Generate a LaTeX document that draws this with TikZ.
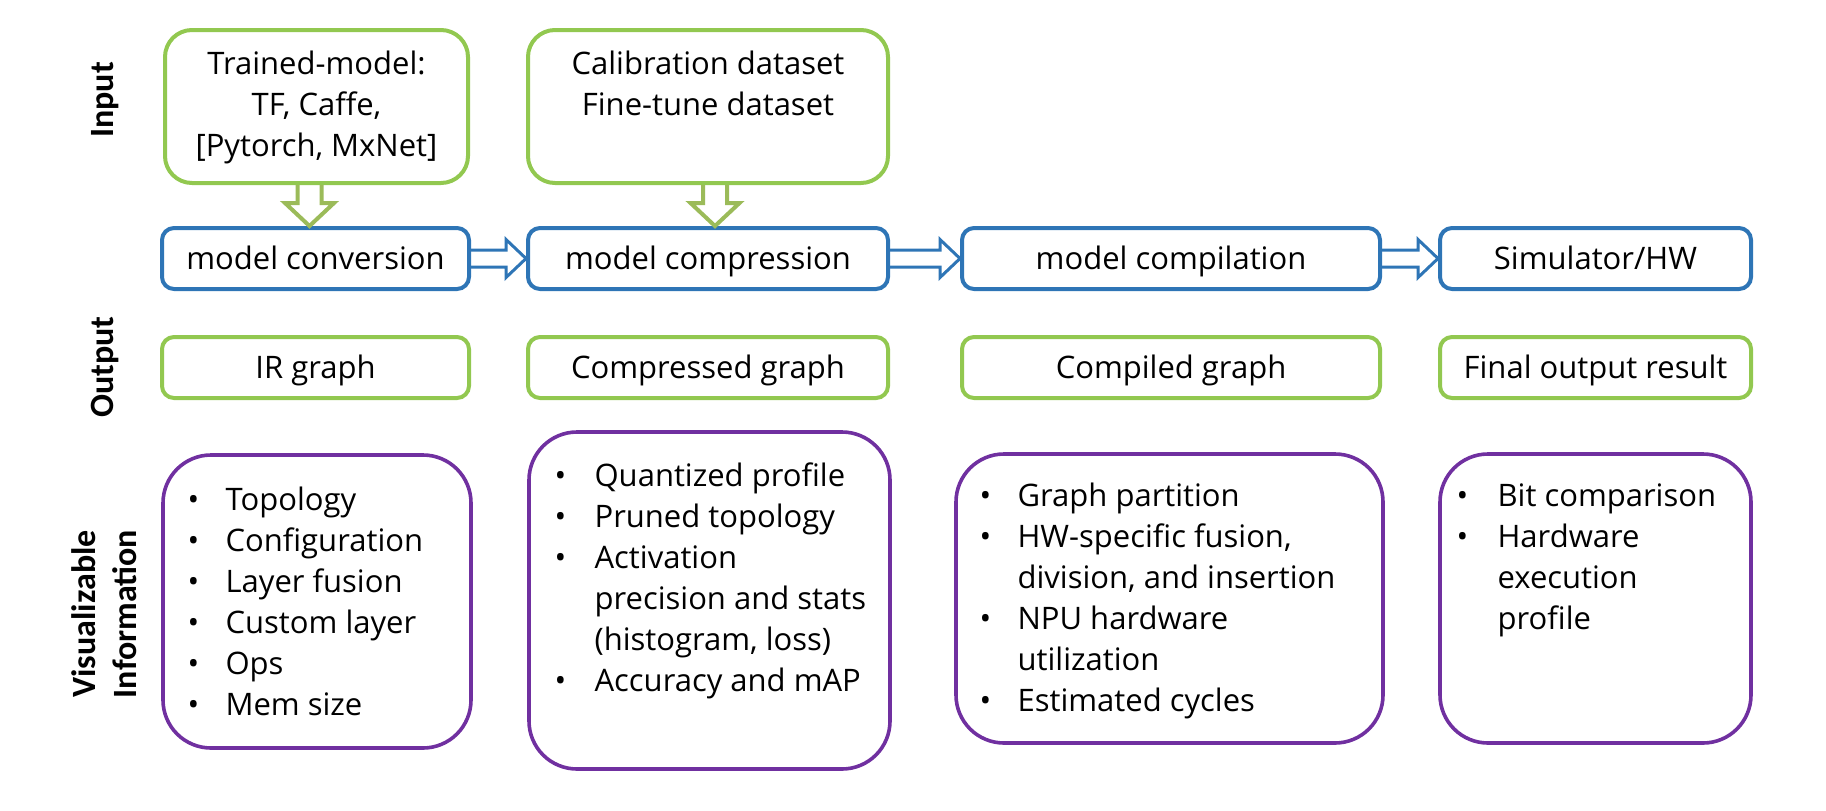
\documentclass[tikz,border=0pt]{standalone}
\usepackage{fontspec}
\setmainfont{Open Sans}
\newfontfamily\labelfont{Carlito}
\usetikzlibrary{positioning, calc}
\definecolor{flowblue}{RGB}{46,117,182}
\definecolor{inputgreen}{RGB}{146,200,80}
\definecolor{arrowgreen}{RGB}{155,187,89}
\definecolor{infopurple}{RGB}{112,48,160}
\newcommand{\mainsize}{\fontsize{15.5}{20.5}\selectfont}

\tikzset{
  stagebox/.style={draw=flowblue, line width=2pt, rounded corners=6pt, minimum height=30.5pt,
    text height=12.5pt, text depth=2pt, inner sep=0pt, font=\mainsize},
  outbox/.style={stagebox, draw=inputgreen},
  inbox/.style={draw=inputgreen, line width=2pt, rounded corners=13.5pt, minimum height=76.5pt, inner sep=0pt},
  infobox/.style={draw=infopurple, line width=1.8pt, rounded corners=24pt, inner sep=0pt},
  boxtext/.style={inner sep=0pt, font=\mainsize},
  sidelabel/.style={rotate=90, align=center, font=\labelfont\bfseries\fontsize{17}{20.5}\selectfont},
  blue arrow/.style={draw=flowblue, line width=1.5pt, line join=miter},
  green arrow/.style={draw=arrowgreen, line width=2pt, line join=miter}
}

% hollow arrow from the east side of #1 to the west side of #2
\newcommand{\hollowright}[2]{%
  \draw[blue arrow] ($(#1.east)+(0,4.25pt)$) -- ($(#2.west)+(-10pt,4.25pt)$)
    -- ($(#2.west)+(-10pt,9.5pt)$) -- (#2.west) -- ($(#2.west)+(-10pt,-9.5pt)$)
    -- ($(#2.west)+(-10pt,-4.25pt)$) -- ($(#1.east)+(0,-4.25pt)$);}
% hollow arrow from the bottom of #1 down to the top of #2, moved sideways by #3
\newcommand{\hollowdown}[3]{%
  \draw[green arrow] let \p1=($(#1.south)+(#3,0)$), \p2=(#2.north) in
    (\x1-6pt,\y1) -- (\x1-6pt,\y2+11.5pt) -- (\x1-12.25pt,\y2+11.5pt) -- (\x1,\y2)
    -- (\x1+12.25pt,\y2+11.5pt) -- (\x1+6pt,\y2+11.5pt) -- (\x1+6pt,\y1);}

\begin{document}
\begin{tikzpicture}[x=0.5pt, y=-0.5pt]
  \useasboundingbox (0,0) rectangle (1826,810);

  % Row labels
  \node[sidelabel] (lin) at (105,100) {Input};
  \node[sidelabel] (lout) at (105,367) {Output};
  \node[sidelabel] (lvis) at (104,614) {Visualizable\\Information};

  % Input
  \node[inbox, minimum width=151.5pt] (in1) at (316.5,106.5) {};
  \node[inbox, minimum width=180pt] (in2) at (708,106.5) {};
  \node[boxtext, anchor=north] (in1txt) at ($(in1.north)+(0,-8.5pt)$)
    {\begin{tabular}{@{}c@{}}Trained-model:\\TF, Caffe,\\{[Pytorch, MxNet]}\end{tabular}};
  \node[boxtext, anchor=north] (in2txt) at ($(in2.north)+(0,-8.5pt)$)
    {\begin{tabular}{@{}c@{}}Calibration dataset\\Fine-tune dataset\end{tabular}};

  % Stages
  \node[stagebox, minimum width=153.5pt] (conv) at (315.5,258.5) {model conversion};
  \node[stagebox, minimum width=180pt] (comp) at (708,258.5) {model compression};
  \node[stagebox, minimum width=209pt] (compil) at (1171,258.5) {model compilation};
  \node[stagebox, minimum width=155.5pt] (sim) at (1595.5,258.5) {Simulator/HW};

  \hollowdown{in1}{conv}{-3.5pt}
  \hollowdown{in2}{comp}{3.5pt}
  \hollowright{conv}{comp}
  \hollowright{comp}{compil}
  \hollowright{compil}{sim}

  % Output
  \node[outbox, minimum width=153.5pt] (out1) at (315.5,367.5) {IR graph};
  \node[outbox, minimum width=180pt] (out2) at (708,367.5) {Compressed graph};
  \node[outbox, minimum width=209pt] (out3) at (1171,367.5) {Compiled graph};
  \node[outbox, minimum width=155.5pt] (out4) at (1595.5,367.5) {Final output result};

  % Visualizable information
  \node[infobox, minimum width=154pt, minimum height=146.5pt] (vis1) at (317,601.5) {};
  \node[infobox, minimum width=180.5pt, minimum height=168.5pt] (vis2) at (709.5,600.5) {};
  \node[infobox, minimum width=213.5pt, minimum height=144.5pt] (vis3) at (1169.5,598.5) {};
  \node[infobox, minimum width=155.5pt, minimum height=144.5pt] (vis4) at (1595.5,598.5) {};

  \node[boxtext, anchor=north west] (vis1txt) at ($(vis1.north west)+(13pt,-14pt)$)
    {\begin{tabular}{@{}p{19pt}@{}l@{}}
      \textbullet & Topology\\
      \textbullet & Configuration\\
      \textbullet & Layer fusion\\
      \textbullet & Custom layer\\
      \textbullet & Ops\\
      \textbullet & Mem size
    \end{tabular}};
  \node[boxtext, anchor=north west] (vis2txt) at ($(vis2.north west)+(13.5pt,-13.5pt)$)
    {\begin{tabular}{@{}p{20pt}@{}l@{}}
      \textbullet & Quantized profile\\
      \textbullet & Pruned topology\\
      \textbullet & Activation\\
                  & precision and stats\\
                  & (histogram, loss)\\
      \textbullet & Accuracy and mAP
    \end{tabular}};
  \node[boxtext, anchor=north west] (vis3txt) at ($(vis3.north west)+(12.5pt,-12.5pt)$)
    {\begin{tabular}{@{}p{19pt}@{}l@{}}
      \textbullet & Graph partition\\
      \textbullet & HW-specific fusion,\\
                  & division, and insertion\\
      \textbullet & NPU hardware\\
                  & utilization\\
      \textbullet & Estimated cycles
    \end{tabular}};
  \node[boxtext, anchor=north west] (vis4txt) at ($(vis4.north west)+(9pt,-12.5pt)$)
    {\begin{tabular}{@{}p{20.5pt}@{}l@{}}
      \textbullet & Bit comparison\\
      \textbullet & Hardware\\
                  & execution\\
                  & profile
    \end{tabular}};
\end{tikzpicture}
\end{document}
